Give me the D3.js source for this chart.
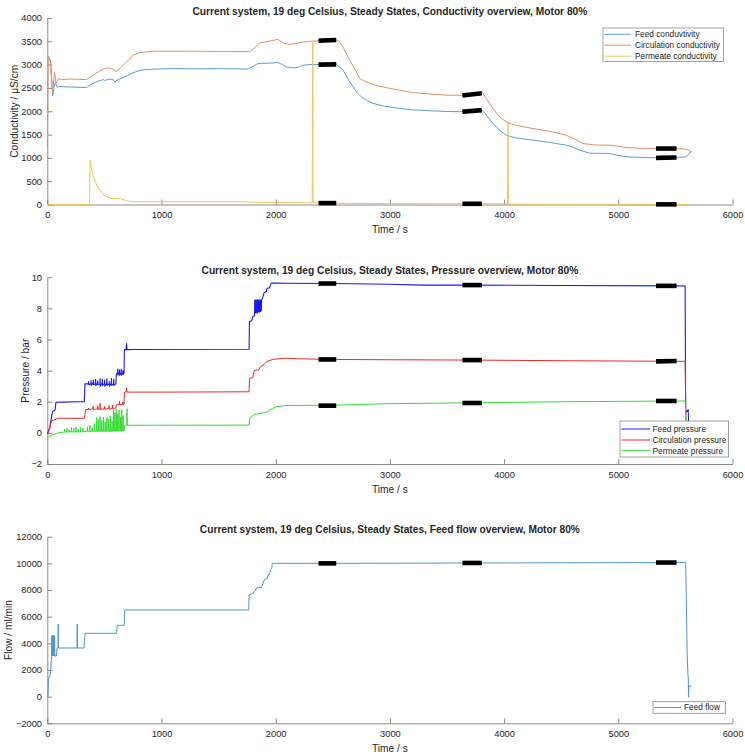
<!DOCTYPE html>
<html>
<head>
<meta charset="utf-8">
<script src="https://cdn.jsdelivr.net/npm/d3@7"></script>
<style>
  html, body { margin: 0; padding: 0; background: #fff; }
  svg text { font-family: "Liberation Sans", Arial, sans-serif; fill: #262626; }
</style>
</head>
<body>
<svg id="fig" width="745" height="756"></svg>
<script>
// ---- shared axis data ----
const timeTicks = [0, 1000, 2000, 3000, 4000, 5000, 6000];
const condTicks = [0, 500, 1000, 1500, 2000, 2500, 3000, 3500, 4000];
const pressTicks = [-2, 0, 2, 4, 6, 8, 10];
const flowTicks = [-2000, 0, 2000, 4000, 6000, 8000, 10000, 12000];

// steady-state windows (s)
const steadyStart = [2395, 3655, 5350];
const steadyEnd   = [2510, 3785, 5490];

// ---- conductivity (µS/cm) ----
const feedCondT = [0, 15, 30, 47, 59, 70, 88, 111, 200, 345, 374, 420, 490, 500, 548, 575, 592, 621, 680, 738, 811, 880, 957, 1074, 1300, 1500, 1759, 1790, 1846, 1977, 2012, 2050, 2094, 2152, 2200, 2240, 2327, 2395, 2510, 2532, 2590, 2648, 2707, 2750, 2794, 2850, 2950, 3086, 3200, 3377, 3500, 3611, 3655, 3785, 3809, 3850, 3900, 3961, 4019, 4100, 4252, 4400, 4544, 4600, 4661, 4750, 4923, 4980, 5069, 5200, 5332, 5507, 5570, 5594, 5620, 5635, 5640];
const feedCond  = [3160, 3170, 3050, 2330, 2520, 2600, 2520, 2530, 2520, 2510, 2560, 2620, 2680, 2660, 2690, 2680, 2630, 2680, 2740, 2810, 2880, 2895, 2905, 2915, 2910, 2915, 2905, 2950, 3025, 3035, 3050, 3010, 2950, 2930, 2945, 2990, 3005, 3000, 3005, 3008, 2880, 2630, 2415, 2308, 2236, 2170, 2110, 2059, 2030, 2008, 1995, 1990, 1995, 2020, 2023, 1900, 1740, 1594, 1487, 1430, 1380, 1330, 1273, 1230, 1166, 1100, 1095, 1060, 1023, 1010, 1001, 1010, 1015, 1023, 1080, 1144, 1130];

const circCondT = [0, 8, 23, 47, 64, 76, 96, 125, 200, 345, 374, 420, 461, 519, 563, 590, 601, 636, 694, 753, 811, 880, 957, 1074, 1400, 1773, 1800, 1861, 1977, 2021, 2065, 2123, 2167, 2240, 2327, 2395, 2510, 2547, 2590, 2648, 2707, 2736, 2794, 2900, 3086, 3200, 3377, 3500, 3611, 3655, 3785, 3809, 3844, 3902, 3961, 4019, 4100, 4252, 4400, 4544, 4620, 4690, 4800, 4923, 5000, 5069, 5200, 5332, 5500, 5580, 5610, 5630, 5640];
const circCond  = [1250, 3150, 3100, 2415, 2844, 2594, 2701, 2680, 2690, 2680, 2737, 2800, 2866, 2930, 2915, 2890, 2844, 2917, 3060, 3202, 3259, 3275, 3288, 3288, 3285, 3280, 3330, 3463, 3520, 3541, 3463, 3434, 3450, 3484, 3505, 3515, 3525, 3527, 3380, 3094, 2844, 2702, 2629, 2540, 2450, 2400, 2364, 2345, 2343, 2345, 2380, 2412, 2273, 2059, 1879, 1772, 1700, 1630, 1570, 1487, 1400, 1309, 1275, 1273, 1250, 1223, 1205, 1202, 1200, 1187, 1170, 1150, 1130];

const permCondT = [0, 370, 374, 403, 447, 505, 563, 636, 694, 738, 1000, 1744, 1803, 2000, 2320, 2324, 2328, 2395, 2510, 2600, 3000, 3655, 3785, 4030, 4034, 4038, 4200, 5350, 5490, 5630];
const permCond  = [0, 0, 952, 591, 345, 180, 130, 130, 80, 60, 60, 60, 50, 40, 35, 3505, 35, 30, 30, 25, 18, 15, 15, 12, 1760, 8, 5, 3, 3, 0];

const feedCondSteady = [[3000, 3005], [1995, 2020], [1000, 1008]];
const circCondSteady = [[3515, 3525], [2345, 2380], [1200, 1200]];
const permCondSteady = [[30, 30], [15, 15], [3, 3]];

// ---- pressure (bar), [time, value] ----
const feedPress = [[0,-0.05],[5,0],[23,0.4],[38,1.07],[47,1.39],[67,1.45],[76,1.97],[150,1.98],[250,2.0],[324,2.0],[330,3.15],
  [345,3.15],[360,3.15],[362,3.3],[364,3.1],[380,3.15],[383,3.35],[385,3.05],[400,3.2],[403,3.4],[405,3.1],[420,3.15],[423,3.45],[425,3.05],
  [440,3.2],[442,3.35],[444,3.1],[460,3.15],[462,3.5],[464,3.0],[480,3.2],[482,3.45],[484,3.05],[500,3.15],[502,3.4],[504,3.0],
  [520,3.2],[522,3.5],[524,3.05],[540,3.15],[542,3.3],[544,3.0],[560,3.2],[562,3.5],[564,3.05],[580,3.15],[582,3.45],[584,3.05],[600,3.15],
  [605,3.8],[615,3.85],[617,4.1],[619,3.7],[630,3.85],[632,4.05],[634,3.7],[645,3.85],[647,4.1],[649,3.7],[660,3.85],[662,4.0],[664,3.75],[672,3.85],
  [675,5.35],[690,5.35],[694,5.74],[698,5.35],[750,5.36],[1767,5.38],[1770,7.18],[1790,7.2],[1800,7.5],[1812,7.5],
  [1815,7.72],[1817,8.55],[1820,7.7],[1823,8.5],[1826,7.72],[1829,8.56],[1832,7.75],[1835,8.5],[1838,7.7],[1841,8.55],[1844,7.75],[1847,8.5],
  [1850,7.8],[1853,8.56],[1856,7.75],[1859,8.5],[1862,7.8],[1865,8.55],[1868,7.8],[1871,8.5],[1874,7.85],[1877,8.56],[1880,8.6],
  [1886,8.7],[1898,9.0],[1918,9.1],[1925,9.3],[1945,9.32],[1952,9.45],[1963,9.63],[2100,9.62],[2500,9.6],[3000,9.55],[3300,9.5],
  [3700,9.5],[4500,9.47],[5500,9.45],[5585,9.44],[5590,1.3],[5612,1.5],[5615,0.7]];

const circPress = [[0,-0.05],[5,-0.05],[23,0.32],[38,0.79],[67,0.85],[96,0.94],[324,0.93],[336,1.5],
  [360,1.5],[362,1.6],[364,1.5],[400,1.55],[402,1.7],[404,1.5],[440,1.55],[442,1.75],[444,1.5],[461,1.55],[463,1.9],[465,1.5],
  [500,1.55],[502,1.7],[504,1.5],[540,1.6],[542,1.75],[544,1.5],[570,1.6],[572,1.8],[574,1.55],[600,1.6],[605,1.8],
  [630,1.82],[632,2.03],[634,1.8],[660,1.85],[662,2.0],[664,1.8],[672,1.85],[675,2.61],[690,2.62],[694,2.89],[698,2.62],
  [1000,2.62],[1767,2.64],[1770,3.5],[1800,3.55],[1805,3.8],[1815,4.0],[1850,4.05],[1869,4.26],[1900,4.4],[1920,4.58],
  [1977,4.73],[2094,4.8],[2200,4.76],[2500,4.72],[3000,4.7],[3700,4.68],[4500,4.64],[5500,4.6],[5585,4.6],[5592,0.8]];

const permPress = [[0,-0.2],[9,-0.26],[38,-0.15],[96,0],[140,0.05],[150,0.05],[152,0.25],[154,0.05],[170,0.05],[172,0.3],[174,0.05],
  [190,0.06],[192,0.2],[194,0.06],[210,0.06],[212,0.35],[214,0.06],[230,0.06],[232,0.3],[234,0.06],[250,0.06],[252,0.38],[254,0.06],
  [270,0.06],[272,0.25],[274,0.06],[290,0.06],[292,0.35],[294,0.06],[310,0.06],[312,0.3],[314,0.06],[330,0.08],
  [350,0.1],[352,0.4],[354,0.1],[370,0.1],[372,0.5],[374,0.1],[390,0.1],[392,0.35],[394,0.1],[410,0.1],[412,0.6],[414,0.1],
  [430,0.1],[432,1.0],[434,0.1],[445,0.1],[447,0.9],[449,0.1],[460,0.1],[462,1.05],[464,0.1],[475,0.1],[477,0.8],[479,0.1],
  [490,0.1],[492,1.0],[494,0.1],[505,0.1],[507,0.7],[509,0.1],[520,0.1],[522,1.0],[524,0.1],[535,0.1],[537,0.9],[539,0.1],
  [550,0.1],[552,1.1],[554,0.1],[565,0.1],[567,0.75],[569,0.1],[578,0.12],[580,1.5],[582,0.12],[590,0.12],[592,1.3],[594,0.12],
  [602,0.12],[604,1.55],[606,0.12],[614,0.12],[616,1.2],[618,0.12],[626,0.12],[628,1.45],[630,0.12],[638,0.12],[640,1.0],[642,0.12],
  [650,0.12],[652,1.5],[654,0.12],[662,0.12],[664,1.1],[666,0.12],[674,0.15],[676,0.49],[695,0.49],[698,1.55],[701,0.49],
  [1767,0.5],[1770,0.92],[1815,1.18],[1869,1.25],[1927,1.35],[1956,1.5],[2000,1.68],[2094,1.76],[2500,1.78],[3000,1.88],
  [3700,1.93],[4500,2.0],[5500,2.05],[5585,2.05],[5592,1.0],[5612,0.4]];

const feedPressSteady = [[9.6, 9.6], [9.5, 9.5], [9.45, 9.45]];
const circPressSteady = [[4.72, 4.72], [4.68, 4.68], [4.6, 4.62]];
const permPressSteady = [[1.75, 1.75], [1.92, 1.92], [2.05, 2.05]];

// ---- feed flow (ml/min), [time, value] ----
const feedFlow = [[0,0],[6,0],[10,1400],[20,1430],[30,2000],[38,3000],[40,4550],[42,3050],[44,4600],[46,3050],[48,4550],[50,3050],
  [52,4600],[54,3050],[56,4550],[58,3050],[60,4600],[62,3050],[64,4550],[66,3050],[80,3050],[85,3650],[94,3650],[96,5450],[98,3650],
  [260,3650],[262,5450],[264,3650],[322,3650],[326,4200],[330,4750],[607,4750],[612,5350],[674,5350],[678,6500],[1764,6500],
  [1767,7625],[1790,7700],[1815,7875],[1836,8200],[1878,8200],[1885,8450],[1903,8800],[1925,8850],[1932,9125],[1945,9150],
  [1953,9500],[1965,9600],[1970,10000],[2500,10000],[3000,10010],[3700,10030],[4500,10040],[5500,10060],[5590,10060],
  [5595,7700],[5603,3200],[5610,1600],[5613,1500],[5615,-50],[5618,800],[5640,800]];
const feedFlowSteady = [[10000, 10000], [10030, 10030], [10060, 10060]];

// ---- drawing ----
const svg = d3.select("#fig");
const x = d3.scaleLinear().domain([0, 6000]).range([47.3, 732.5]);
const AXIS_GREY = "#7f7f7f";

function zip(t, v) { return t.map((d, i) => [d, v[i]]); }

function panel(o) {
  const y = d3.scaleLinear().domain(o.domain).range([o.bottom, o.top]);
  const g = svg.append("g");

  // axes (box off, inward ticks)
  const xa = g.append("g").attr("transform", `translate(0,${o.bottom})`)
    .call(d3.axisBottom(x).tickValues(timeTicks).tickSizeInner(-5).tickSizeOuter(0).tickPadding(7.2).tickFormat(d3.format("d")));
  const ya = g.append("g").attr("transform", `translate(${x.range()[0]},0)`)
    .call(d3.axisLeft(y).tickValues(o.ticks).tickSizeInner(-5).tickSizeOuter(0).tickPadding(5.3).tickFormat(d3.format("d")));
  [xa, ya].forEach(a => {
    a.select(".domain").attr("stroke", AXIS_GREY).attr("stroke-width", 0.9);
    a.selectAll(".tick line").attr("stroke", AXIS_GREY).attr("stroke-width", 0.9);
    a.selectAll(".tick text").attr("font-size", 9.3).attr("fill", "#262626")
      .style("font-family", '"Liberation Sans", Arial, sans-serif');
  });

  const line = d3.line().x(d => x(d[0])).y(d => y(d[1]));
  o.series.forEach(s => {
    g.append("path").datum(s.data).attr("d", line)
      .attr("fill", "none").attr("stroke", s.color).attr("stroke-width", s.width || 1)
      .attr("stroke-linejoin", "round");
  });

  // steady-state markers
  o.series.forEach(s => {
    s.steady.forEach((vals, i) => {
      g.append("path")
        .datum([[steadyStart[i], vals[0]], [steadyEnd[i], vals[1]]])
        .attr("d", line).attr("fill", "none")
        .attr("stroke", "#000").attr("stroke-width", 4.6).attr("stroke-linecap", "square");
    });
  });

  // title and labels
  const cx = (x.range()[0] + x.range()[1]) / 2;
  g.append("text").attr("x", cx).attr("y", o.top - 3.5).attr("text-anchor", "middle")
    .attr("font-size", 10.2).attr("font-weight", "bold").attr("fill", "#000").text(o.title);
  g.append("text").attr("x", cx).attr("y", o.bottom + 28.5).attr("text-anchor", "middle")
    .attr("font-size", 10.2).text("Time / s");
  g.append("text").attr("transform", `translate(${o.ylabelX},${(o.top + o.bottom) / 2}) rotate(-90)`)
    .attr("text-anchor", "middle").attr("font-size", 10.2).text(o.ylabel);

  // legend
  const L = o.legend;
  g.append("rect").attr("x", L.x0).attr("y", L.y0).attr("width", L.x1 - L.x0).attr("height", L.y1 - L.y0)
    .attr("fill", "#fff").attr("stroke", "#8a8a8a").attr("stroke-width", 0.8);
  o.series.forEach((s, i) => {
    const ry = L.rows[i];
    g.append("line").attr("x1", L.lx0).attr("x2", L.lx1).attr("y1", ry).attr("y2", ry)
      .attr("stroke", s.color).attr("stroke-width", 1);
    g.append("text").attr("x", L.tx).attr("y", ry + 2.9).attr("font-size", 8.3).text(s.name);
  });
}

panel({
  top: 18, bottom: 204.5, domain: [0, 4000], ticks: condTicks,
  title: "Current system, 19 deg Celsius, Steady States, Conductivity overview, Motor 80%",
  ylabel: "Conductivity / \u03bcS/cm", ylabelX: 17.8,
  series: [
    { name: "Feed conduvtivity", color: "#5c9fd2", data: zip(feedCondT, feedCond), steady: feedCondSteady },
    { name: "Circulation conductivity", color: "#e2916b", data: zip(circCondT, circCond), steady: circCondSteady },
    { name: "Permeate conductivity", color: "#f0c55e", data: zip(permCondT, permCond), steady: permCondSteady }
  ],
  legend: { x0: 603, y0: 28, x1: 723.5, y1: 61.5, rows: [34.3, 45.2, 56.2], lx0: 604.5, lx1: 631, tx: 635 }
});

panel({
  top: 277.3, bottom: 464, domain: [-2, 10], ticks: pressTicks,
  title: "Current system, 19 deg Celsius, Steady States, Pressure overview, Motor 80%",
  ylabel: "Pressure / bar", ylabelX: 28.5,
  series: [
    { name: "Feed pressure", color: "#1a1aee", data: feedPress, steady: feedPressSteady, width: 1.1 },
    { name: "Circulation pressure", color: "#ee2a2a", data: circPress, steady: circPressSteady },
    { name: "Permeate pressure", color: "#33dd33", data: permPress, steady: permPressSteady }
  ],
  legend: { x0: 620, y0: 421, x1: 728.5, y1: 457, rows: [429, 440, 450.7], lx0: 621.5, lx1: 650, tx: 652.5 }
});

panel({
  top: 536.7, bottom: 723.3, domain: [-2000, 12000], ticks: flowTicks,
  title: "Current system, 19 deg Celsius, Steady States, Feed flow overview, Motor 80%",
  ylabel: "Flow / ml/min", ylabelX: 12.3,
  series: [
    { name: "Feed flow", color: "#4f96cc", data: feedFlow, steady: feedFlowSteady }
  ],
  legend: { x0: 653, y0: 701.7, x1: 725.5, y1: 713.3, rows: [707.5], lx0: 654.5, lx1: 681, tx: 684 }
});
</script>
</body>
</html>
